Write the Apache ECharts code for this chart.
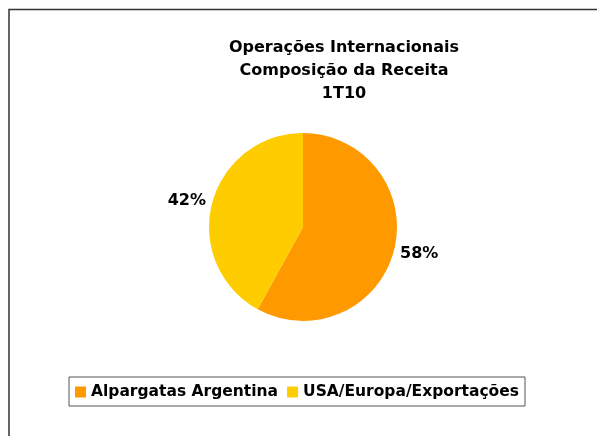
<!DOCTYPE html>
<html>
<head>
<meta charset="utf-8">
<style>
html,body{margin:0;padding:0;background:#fff;}
#chart{width:597px;height:436px;}
</style>
<script src="https://cdn.jsdelivr.net/npm/echarts@6/dist/echarts.min.js"></script>
</head>
<body>
<div id="chart"></div>
<script>
var titleLines = ['Operações Internacionais', 'Composição da Receita', '1T10'];
var categories = ['Alpargatas Argentina', 'USA/Europa/Exportações'];
var values = [58, 42];
var colors = ['#FF9900', '#FFCC00'];

var FONT = 'DejaVu Sans';
var labelShift = [[0, 3], [0, -3]];
var chart = echarts.init(document.getElementById('chart'));
var data = categories.map(function (c, i) {
  return { name: c, value: values[i], itemStyle: { color: colors[i] }, label: { offset: labelShift[i] } };
});
chart.setOption({
  animation: false,
  backgroundColor: '#ffffff',
  graphic: [{
    type: 'rect',
    shape: { x: 9, y: 9.5, width: 620, height: 460 },
    style: { fill: 'none', stroke: '#333333', lineWidth: 1.5 },
    silent: true
  }],
  title: {
    text: titleLines.join('\n'),
    left: 339,
    top: 31,
    textAlign: 'center',
    textStyle: { fontFamily: FONT, fontSize: 16, fontWeight: 'bold', color: '#000', lineHeight: 23 }
  },
  legend: {
    data: categories,
    left: 69,
    top: 377,
    orient: 'horizontal',
    icon: 'rect',
    itemWidth: 11,
    itemHeight: 11,
    itemGap: 9,
    padding: [7, 6, 6, 6],
    borderColor: '#555555',
    borderWidth: 1,
    textStyle: { fontFamily: FONT, fontSize: 15.5, fontWeight: 'bold', color: '#000' }
  },
  series: [{
    type: 'pie',
    center: [303, 227],
    radius: [0, 94],
    startAngle: 90,
    clockwise: true,
    data: data,
    label: {
      show: true,
      position: 'outside',
      formatter: '{d}%',
      distanceToLabelLine: 5,
      fontFamily: FONT,
      fontSize: 16,
      fontWeight: 'bold',
      color: '#000'
    },
    labelLine: { show: false, length: 1, length2: 0 },
    emphasis: { disabled: true }
  }]
});
</script>
</body>
</html>
